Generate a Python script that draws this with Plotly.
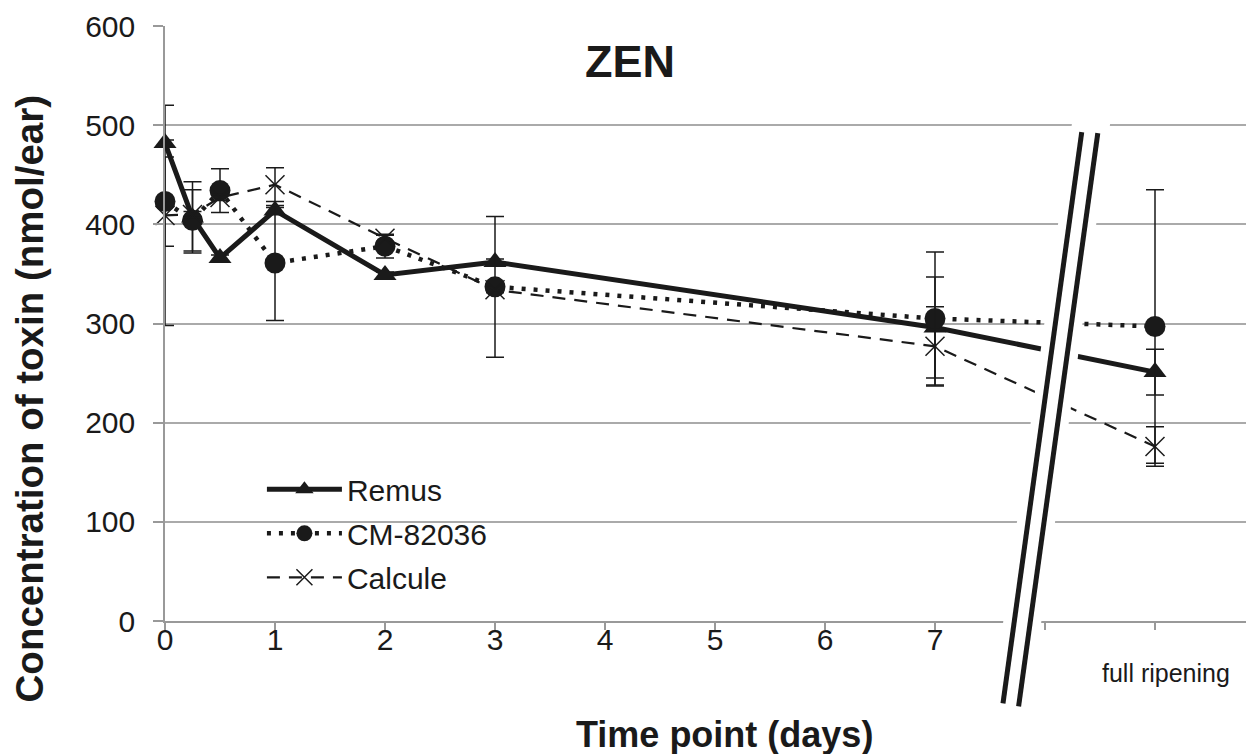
import plotly.graph_objects as go

# ---------------- data ----------------
time_points = [0, 0.25, 0.5, 1, 2, 3, 7, 9]   # 9 = "full ripening"
remus = [482, 407, 366, 414, 349, 362, 296, 251]
remus_err = [3, 36, 3, 3, 3, 3, 51, 23]
cm82036 = [423, 404, 434, 361, 378, 337, 305, 297]
cm82036_err = [45, 31, 22, 58, 12, 71, 67, 138]
calcule = [409, 410, 427, 440, 386, 334, 277, 176]
calcule_err = [111, 3, 3, 17, 3, 3, 40, 20]

tick_vals = [0, 1, 2, 3, 4, 5, 6, 7, 8, 9]
tick_text = ["0", "1", "2", "3", "4", "5", "6", "7", "", ""]
y_ticks = [0, 100, 200, 300, 400, 500, 600]

XMAX = 9.9
YMAX = 600
FONT = "Liberation Sans, Arial, sans-serif"
INK = "#1a1a1a"
AXIS_GRAY = "#999999"

fig = go.Figure()

err_style = dict(type="data", thickness=1.5, width=9, color=INK)

fig.add_trace(go.Scatter(
    x=time_points, y=remus, name="Remus", mode="lines+markers",
    line=dict(color=INK, width=5),
    marker=dict(symbol="triangle-up", size=20, color=INK),
    error_y=dict(array=remus_err, **err_style),
    legendgroup="a", cliponaxis=False,
))
fig.add_trace(go.Scatter(
    x=time_points, y=cm82036, name="CM-82036", mode="lines+markers",
    line=dict(color=INK, width=4.5, dash="4px,8px"),
    marker=dict(symbol="circle", size=21, color=INK),
    error_y=dict(array=cm82036_err, **err_style),
    legendgroup="b", cliponaxis=False,
))
fig.add_trace(go.Scatter(
    x=time_points, y=calcule, name="Calcule", mode="lines+markers",
    line=dict(color=INK, width=2.2, dash="13px,9px"),
    marker=dict(symbol="x-thin-open", size=19, color=INK,
                line=dict(color=INK, width=1.5)),
    error_y=dict(array=calcule_err, **err_style),
    legendgroup="c", cliponaxis=False,
))

# ---------------- axis break symbol ----------------
def px(x):
    return x / XMAX

def py(y):
    return y / YMAX

# two slanted lines (data units)
b1_top, b1_bot = (8.334, 493), (7.618, -83)
b2_top, b2_bot = (8.48, 492), (7.76, -86)
pad = 0.10

def slant_x(top, bot, y):
    t = (y - bot[1]) / (top[1] - bot[1])
    return bot[0] + t * (top[0] - bot[0])

y_hi, y_lo = 508, -4
band = (f"M{px(slant_x(b1_top, b1_bot, y_lo) - pad)},{py(y_lo)} "
        f"L{px(slant_x(b1_top, b1_bot, y_hi) - pad)},{py(y_hi)} "
        f"L{px(slant_x(b2_top, b2_bot, y_hi) + pad)},{py(y_hi)} "
        f"L{px(slant_x(b2_top, b2_bot, y_lo) + pad)},{py(y_lo)} Z")

shapes = [
    dict(type="path", path=band, xref="paper", yref="paper",
         fillcolor="white", line=dict(width=0), layer="above"),
    dict(type="line", xref="paper", yref="paper",
         x0=px(b1_bot[0]), y0=py(b1_bot[1]), x1=px(b1_top[0]), y1=py(b1_top[1]),
         line=dict(color=INK, width=5), layer="above"),
    dict(type="line", xref="paper", yref="paper",
         x0=px(b2_bot[0]), y0=py(b2_bot[1]), x1=px(b2_top[0]), y1=py(b2_top[1]),
         line=dict(color=INK, width=5), layer="above"),
]

annotations = [
    dict(text="<b>ZEN</b>", x=0.427, y=0.9395, xref="paper", yref="paper",
         showarrow=False, font=dict(family=FONT, size=45, color=INK),
         xanchor="center", yanchor="middle"),
    dict(text="<b>Time point (days)</b>", x=0.514, y=-0.19, xref="paper", yref="paper",
         showarrow=False, font=dict(family=FONT, size=36, color=INK),
         xanchor="center", yanchor="middle"),
    dict(text="<b>Concentration of toxin (nmol/ear)</b>", x=-0.124, y=0.374,
         xref="paper", yref="paper", textangle=-90,
         showarrow=False, font=dict(family=FONT, size=38.5, color=INK),
         xanchor="center", yanchor="middle"),
    dict(text="full ripening", x=9, xshift=11, y=-0.087, xref="x", yref="paper",
         showarrow=False, font=dict(family=FONT, size=25, color=INK),
         xanchor="center", yanchor="middle"),
]

# the page body adds an 8px offset; figure sized so the plot area lands
# where the reference has it
fig.update_layout(
    width=1246, height=746,
    margin=dict(l=157, r=0, t=18, b=133),
    paper_bgcolor="white", plot_bgcolor="white",
    font=dict(family=FONT, size=30, color=INK),
    showlegend=True,
    legend=dict(x=0.089, y=0.265, xanchor="left", yanchor="top",
                bgcolor="rgba(0,0,0,0)", font=dict(size=30, color=INK),
                itemwidth=75, tracegroupgap=2, traceorder="grouped"),
    xaxis=dict(range=[0, XMAX], tickmode="array", tickvals=tick_vals,
               ticktext=tick_text, ticks="outside", ticklen=7, tickwidth=1.5,
               tickcolor=AXIS_GRAY, showline=True, linecolor=AXIS_GRAY,
               linewidth=1.5, showgrid=False, zeroline=False,
               ticklabelstandoff=-16,
               tickfont=dict(size=30, color=INK)),
    xaxis2=dict(range=[0, XMAX], overlaying="x", anchor="y", side="bottom",
                tickmode="array", tickvals=tick_vals, ticks="inside",
                ticklen=8, tickwidth=1.5, tickcolor=AXIS_GRAY,
                showticklabels=False, showline=False, showgrid=False,
                zeroline=False),
    yaxis=dict(range=[0, YMAX], tickmode="array", tickvals=y_ticks,
               ticks="outside", ticklen=10, tickwidth=1.5, tickcolor=AXIS_GRAY,
               showline=True, linecolor=AXIS_GRAY, linewidth=1.5,
               showgrid=True, gridcolor="#aaaaaa", gridwidth=1.5,
               zeroline=False, ticklabelstandoff=12,
               tickfont=dict(size=30, color=INK)),
    shapes=shapes,
    annotations=annotations,
)

fig.write_html("out.html")
